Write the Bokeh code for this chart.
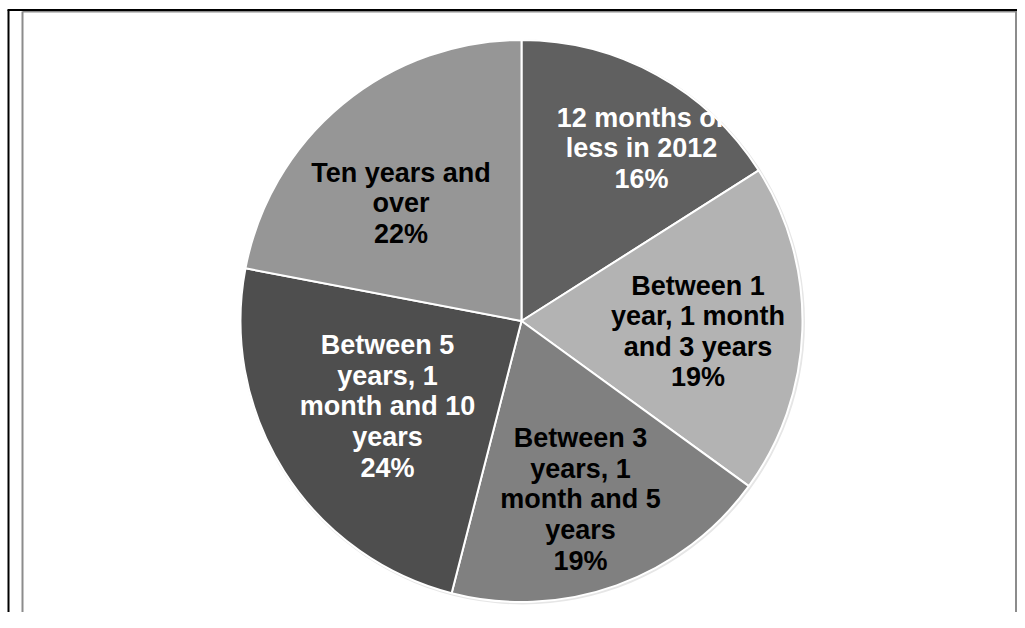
import math
from bokeh.plotting import figure
from bokeh.models import ColumnDataSource, Range1d
from bokeh.core.properties import value
from bokeh.embed import file_html
from bokeh.resources import INLINE

categories = [
    "12 months or\nless in 2012",
    "Between 1\nyear, 1 month\nand 3 years",
    "Between 3\nyears, 1\nmonth and 5\nyears",
    "Between 5\nyears, 1\nmonth and 10\nyears",
    "Ten years and\nover",
]
shares = [16, 19, 19, 24, 22]
slice_colors = ["#606060", "#b3b3b3", "#808080", "#4e4e4e", "#969696"]
text_colors = ["white", "black", "black", "white", "black"]
# label anchor points (data units, pixel-like)
label_x = [641, 697.5, 580, 387, 400.5]
label_y = [464, 281, 113, 206, 409]

W, H = 1017, 612
cx, cy, R = 521, 291.5, 281

total = sum(shares)
starts, ends = [], []
cum = 0
for s in shares:
    starts.append(math.pi / 2 - 2 * math.pi * cum / total)
    cum += s
    ends.append(math.pi / 2 - 2 * math.pi * cum / total)

labels = [f"{c}\n{round(100 * s / total)}%" for c, s in zip(categories, shares)]

src = ColumnDataSource(dict(start=starts, end=ends, color=slice_colors,
                            label=labels, tcolor=text_colors,
                            lx=label_x, ly=label_y))

p = figure(width=W, height=H, output_backend="svg", toolbar_location=None,
           x_range=Range1d(0, W), y_range=Range1d(0, H), min_border=0)
p.axis.visible = False
p.grid.visible = False
p.outline_line_color = None
p.background_fill_color = "white"
p.border_fill_color = "white"

# frame decoration (gray inner box, black outer corner lines)
p.segment(x0=[22, 22, 1015.5], y0=[601, 601, 601], x1=[1017, 22, 1015.5], y1=[601, 0, 0],
          line_color="#8c8c8c", line_width=2)
p.segment(x0=[7, 8], y0=[602.5, 602.5], x1=[1017, 8], y1=[602.5, 0],
          line_color="black", line_width=2)

# subtle shadow around pie
p.circle(x=[cx + 1], y=[cy - 1], radius=R + 1.5, fill_color="#e6e6e6", line_color=None)

p.wedge(x=cx, y=cy, radius=R, start_angle="start", end_angle="end",
        direction="clock", fill_color="color", line_color="white",
        line_width=2, source=src)

p.text(x="lx", y="ly", text="label", source=src, text_color="tcolor",
       text_font=value("Liberation Sans"), text_font_style="bold",
       text_font_size="27px", text_align="center", text_baseline="middle",
       text_line_height=1.02)

open("out.html", "w").write(file_html(p, INLINE))
